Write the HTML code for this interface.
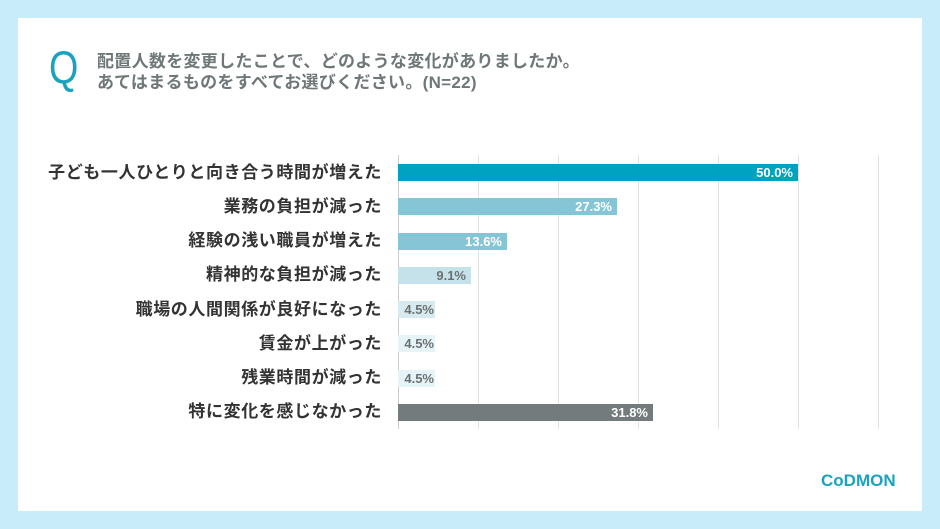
<!DOCTYPE html><html><head><meta charset="utf-8"><style>
body{margin:0;width:940px;height:529px;background:#c9ecfa;position:relative;overflow:hidden;font-family:"Liberation Sans","Noto Sans CJK JP",sans-serif}
.card{position:absolute;left:18px;top:18px;width:904px;height:493px;background:#fff}
.q{position:absolute;left:49px;top:44px;font-size:46px;color:#1aa3bf;font-family:"Liberation Sans",sans-serif;line-height:46px;transform:scaleX(0.82);transform-origin:left}
.t{position:absolute;left:97px;top:51px;font-size:17px;letter-spacing:0.3px;line-height:21px;color:#6f7778;font-weight:bold}
.g{position:absolute;top:155px;height:274px;width:1px;background:#e2e2e2}
.lab{position:absolute;right:558px;font-size:17px;letter-spacing:0.6px;font-weight:bold;color:#333;white-space:nowrap;line-height:18px}
.bar{position:absolute;left:398px;height:17px;font-size:13px;font-weight:bold;text-align:right;line-height:17px;box-sizing:border-box;padding-right:5px}
.logo{position:absolute;left:821px;top:471px;font-size:17px;font-weight:bold;color:#1aa3bf;letter-spacing:0px}
</style></head><body><div class="card"></div>
<div class="q">Q</div>
<div class="t">配置人数を変更したことで、どのような変化がありましたか。<br>あてはまるものをすべてお選びください。(N=22)</div>
<div class="g" style="left:398px;background:#ccc"></div><div class="g" style="left:478px"></div><div class="g" style="left:558px"></div><div class="g" style="left:638px"></div><div class="g" style="left:718px"></div><div class="g" style="left:798px"></div><div class="g" style="left:878px"></div>
<div class="lab" style="top:164px">子ども一人ひとりと向き合う時間が増えた</div>
<div class="lab" style="top:198px">業務の負担が減った</div>
<div class="lab" style="top:232px">経験の浅い職員が増えた</div>
<div class="lab" style="top:266px">精神的な負担が減った</div>
<div class="lab" style="top:301px">職場の人間関係が良好になった</div>
<div class="lab" style="top:335px">賃金が上がった</div>
<div class="lab" style="top:369px">残業時間が減った</div>
<div class="lab" style="top:403px">特に変化を感じなかった</div>
<div class="bar" style="top:164px;width:400px;background:#00a2c2;color:#fff">50.0%</div>
<div class="bar" style="top:198px;width:219px;background:#86c5d5;color:#fff">27.3%</div>
<div class="bar" style="top:233px;width:109px;background:#86c5d5;color:#fff">13.6%</div>
<div class="bar" style="top:267px;width:73px;background:#c5e1e9;color:#6b7172">9.1%</div>
<div class="bar" style="top:301px;width:37px;background:#d6eaf0;color:#6b7172;padding-right:1px">4.5%</div>
<div class="bar" style="top:335px;width:37px;background:#e7f4f7;color:#6b7172;padding-right:1px">4.5%</div>
<div class="bar" style="top:370px;width:37px;background:#e7f4f7;color:#6b7172;padding-right:1px">4.5%</div>
<div class="bar" style="top:404px;width:255px;background:#737b7c;color:#fff">31.8%</div>
<div class="logo">CoDMON</div>
</body></html>
